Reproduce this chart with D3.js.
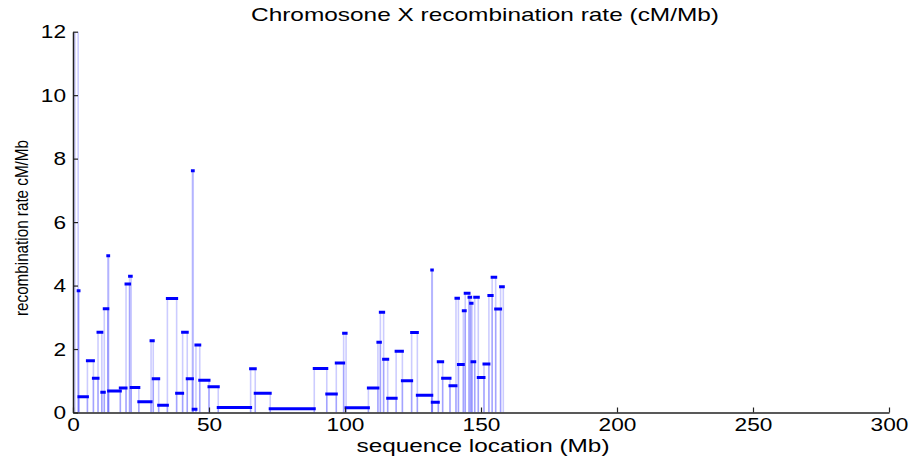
<!DOCTYPE html>
<html lang="en">
<head>
<meta charset="UTF-8"/>
<title>Chromosone X recombination rate</title>
<script src="https://d3js.org/d3.v7.min.js"></script>
<style>
	body { margin: 0; background: #fff; }
	text { font-family: "Liberation Sans", Arial, sans-serif; fill: #000; }
</style>
</head>
<body>
<script>
	var w = 910;
	var h = 459;
	var margin = {top: 31.7, right: 21, bottom: 46.5, left: 73};

	// segment start / end along the chromosome (Mb) and rate (cM/Mb)
	var segStart = [0.7, 1.9, 2.2, 5.3, 7.5, 9.2, 10.6, 11.5, 12.8, 13.1, 17.4, 19.5, 20.8, 21.4, 24.2, 28.7,
		29.5, 31.5, 34.7, 38.1, 40.3, 42.0, 43.9, 44.2, 45.2, 46.6, 50.0, 53.4, 65.3, 67.0, 72.5, 88.7,
		93.3, 96.8, 99.5, 100.4, 108.6, 112.1, 113.0, 114.2, 115.7, 118.8, 121.1, 124.5, 126.6, 131.9, 132.1, 134.3,
		135.9, 138.6, 140.8, 141.7, 143.5, 144.2, 145.6, 146.2, 146.7, 147.7, 149.0, 151.1, 152.9, 154.1, 155.4, 157.2];
	var segEnd = [1.9, 2.2, 5.3, 7.5, 9.2, 10.6, 11.5, 12.8, 13.1, 17.4, 19.5, 20.8, 21.4, 24.2, 28.7, 29.5,
		31.5, 34.7, 38.1, 40.3, 42.0, 43.9, 44.2, 45.2, 46.6, 50.0, 53.4, 65.3, 67.0, 72.5, 88.7, 93.3,
		96.8, 99.5, 100.4, 108.6, 112.1, 113.0, 114.2, 115.7, 118.8, 121.1, 124.5, 126.6, 131.9, 132.1, 134.3, 135.9,
		138.6, 140.8, 141.7, 143.5, 144.2, 145.6, 146.2, 146.7, 147.7, 149.0, 151.1, 152.9, 154.1, 155.4, 157.2, 158.2];
	var rate = [13.0, 3.84, 0.50, 1.63, 1.08, 2.53, 0.64, 3.27, 4.94, 0.68, 0.77, 4.05, 4.29, 0.79, 0.34, 2.26,
		1.06, 0.23, 3.59, 0.61, 2.53, 1.06, 7.62, 0.10, 2.13, 1.02, 0.81, 0.16, 1.38, 0.61, 0.12, 1.39,
		0.58, 1.56, 2.50, 0.15, 0.77, 2.21, 3.16, 1.68, 0.45, 1.93, 1.00, 2.52, 0.54, 4.49, 0.32, 1.60,
		1.08, 0.84, 3.60, 1.51, 3.21, 3.76, 3.63, 3.44, 1.60, 3.63, 1.10, 1.53, 3.69, 4.26, 3.26, 3.96];

	var xTicks = [0, 50, 100, 150, 200, 250, 300];
	var yTicks = [0, 2, 4, 6, 8, 10, 12];

	var data = segStart.map(function(s, i) {
		return {start: s, end: segEnd[i], rate: rate[i]};
	});

	var xScale = d3.scaleLinear()
		.domain([0, 300])
		.range([margin.left, w - margin.right]);

	var yScale = d3.scaleLinear()
		.domain([0, 12])
		.range([h - margin.bottom, margin.top]);

	var svg = d3.select("body")
		.append("svg")
		.attr("width", w)
		.attr("height", h);

	svg.append("clipPath")
		.attr("id", "plotclip")
		.append("rect")
		.attr("x", margin.left)
		.attr("y", margin.top)
		.attr("width", w - margin.left - margin.right)
		.attr("height", h - margin.top - margin.bottom);

	var plot = svg.append("g").attr("clip-path", "url(#plotclip)");

	// light vertical edges at each segment boundary
	plot.selectAll("line.left")
		.data(data)
		.enter()
		.append("line")
		.attr("class", "left")
		.attr("x1", function(d) { return xScale(d.start); })
		.attr("x2", function(d) { return xScale(d.start); })
		.attr("y1", yScale(0))
		.attr("y2", function(d) { return yScale(d.rate); })
		.attr("stroke", "#0000ff")
		.attr("stroke-opacity", 0.2)
		.attr("stroke-width", 1.6);

	plot.selectAll("line.right")
		.data(data)
		.enter()
		.append("line")
		.attr("class", "right")
		.attr("x1", function(d) { return xScale(d.end); })
		.attr("x2", function(d) { return xScale(d.end); })
		.attr("y1", yScale(0))
		.attr("y2", function(d) { return yScale(d.rate); })
		.attr("stroke", "#0000ff")
		.attr("stroke-opacity", 0.2)
		.attr("stroke-width", 1.6);

	// thick level for each segment
	plot.selectAll("line.level")
		.data(data)
		.enter()
		.append("line")
		.attr("class", "level")
		.attr("x1", function(d) { return xScale(d.start); })
		.attr("x2", function(d) { return xScale(d.end); })
		.attr("y1", function(d) { return yScale(d.rate); })
		.attr("y2", function(d) { return yScale(d.rate); })
		.attr("stroke", "#0000ff")
		.attr("stroke-width", 3)
		.attr("stroke-linecap", "square");

	// axes, ticks pointing inward
	var xAxis = d3.axisBottom(xScale)
		.tickValues(xTicks)
		.tickSizeInner(-5)
		.tickSizeOuter(0)
		.tickPadding(5);

	var yAxis = d3.axisLeft(yScale)
		.tickValues(yTicks)
		.tickSizeInner(-5)
		.tickSizeOuter(0)
		.tickPadding(7);

	var gx = svg.append("g")
		.attr("transform", "translate(0," + yScale(0) + ")")
		.call(xAxis);

	var gy = svg.append("g")
		.attr("transform", "translate(" + margin.left + ",0)")
		.call(yAxis);

	[gx, gy].forEach(function(g) {
		g.select(".domain").attr("stroke", "#222").attr("stroke-width", 1.5);
		g.selectAll(".tick line").attr("stroke", "#222").attr("stroke-width", 1.2);
		g.selectAll(".tick text")
			.style("font-family", "'Liberation Sans', Arial, sans-serif")
			.attr("font-size", 19)
			.attr("fill", "#000")
			.attr("textLength", function(d) { return String(d).length * 12.6; })
			.attr("lengthAdjust", "spacingAndGlyphs");
	});

	// title and axis labels
	svg.append("text")
		.attr("x", 485)
		.attr("y", 21)
		.attr("text-anchor", "middle")
		.attr("font-size", 19)
		.attr("textLength", 468)
		.attr("lengthAdjust", "spacingAndGlyphs")
		.text("Chromosone X recombination rate (cM/Mb)");

	svg.append("text")
		.attr("x", 483)
		.attr("y", 452)
		.attr("text-anchor", "middle")
		.attr("font-size", 18)
		.attr("textLength", 253)
		.attr("lengthAdjust", "spacingAndGlyphs")
		.text("sequence location (Mb)");

	svg.append("text")
		.attr("transform", "translate(28,228) rotate(-90)")
		.attr("text-anchor", "middle")
		.attr("font-size", 19)
		.attr("textLength", 176)
		.attr("lengthAdjust", "spacingAndGlyphs")
		.text("recombination rate cM/Mb");
</script>
</body>
</html>
